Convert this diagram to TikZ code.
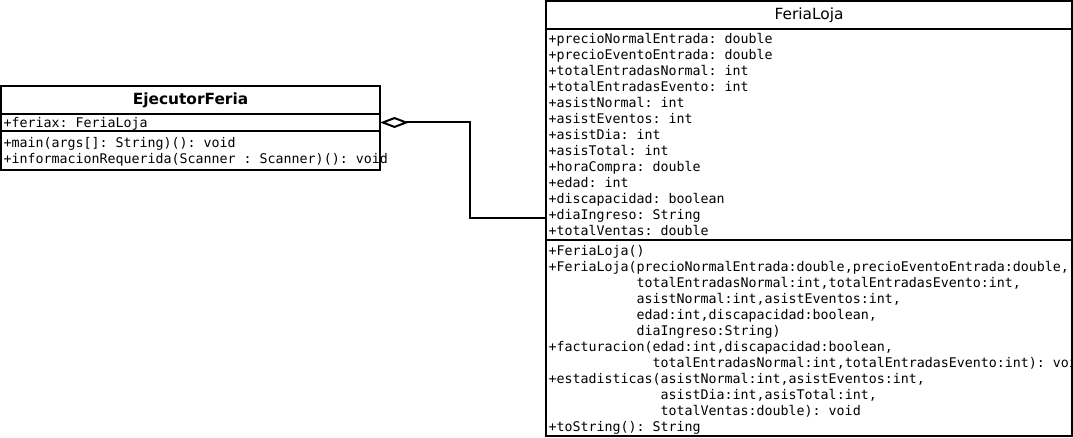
\documentclass[tikz,border=0pt]{standalone}
\usepackage{fontspec}
\usetikzlibrary{positioning,arrows.meta}
\newfontfamily\monofam{DejaVu Sans Mono}
\newfontfamily\sansfam{DejaVu Sans}
\newcommand{\miembros}{\monofam\fontsize{13.3}{16}\selectfont\hyphenchar\font=-1
    \frenchspacing}
\newcommand{\titulo}{\sansfam\fontsize{15.4}{18}\selectfont}
% espacios fijos de monoespaciado y puntales desplazados
\newcommand{\espacios}{\spaceskip=8pt\relax\xspaceskip=8pt\relax}
\newcommand{\arriba}{\rule{0pt}{13.2pt}}
\newcommand{\abajo}{\rule[-2.8pt]{0pt}{2.8pt}}

\begin{document}
\begin{tikzpicture}[x=1pt,y=-1pt,
    caja/.style={draw,rectangle,line width=1.6pt,inner sep=0pt,outer sep=0pt,anchor=north west},
    nombre/.style={caja,font=\titulo,align=center,text height=11pt,text depth=2pt},
    miembro/.style={caja,font=\miembros,align=flush left,inner xsep=2.5pt,
        execute at begin node=\espacios\arriba,execute at end node=\abajo},
    agreg/.style={line width=2pt,-{Diamond[open,length=29pt,width=11pt]}}]
    \useasboundingbox (0,0) rectangle (1073,438);
    \clip (0,0) rectangle (1073,438);
    % clase EjecutorFeria
    \node (eftit) [nombre,minimum width=379pt,minimum height=28pt] at (1,86) {\bfseries EjecutorFeria};
    \node (efattr) [miembro,text width=374pt,minimum height=17pt,
        below right=0pt of eftit.south west] {+feriax: FeriaLoja};
    \node (efmet) [miembro,text width=374pt,minimum height=39pt,
        below right=0pt of efattr.south west] {+main(args[]: String)(): void\\
        +informacionRequerida(Scanner~:~Scanner)():~void};
    % clase FeriaLoja
    \node (fltit) [nombre,minimum width=526pt,minimum height=28pt] at (546,1) {FeriaLoja};
    \node (flattr) [miembro,text width=521pt,minimum height=211pt,
        below right=0pt of fltit.south west] {+precioNormalEntrada: double\\
        +precioEventoEntrada: double\\
        +totalEntradasNormal: int\\
        +totalEntradasEvento: int\\
        +asistNormal: int\\
        +asistEventos: int\\
        +asistDia: int\\
        +asisTotal: int\\
        +horaCompra: double\\
        +edad: int\\
        +discapacidad: boolean\\
        +diaIngreso: String\\
        +totalVentas: double};
    \node (flmet) [miembro,text width=521pt,minimum height=196pt,
        below right=0pt of flattr.south west] {+FeriaLoja()\\
        +FeriaLoja(precioNormalEntrada:double,precioEventoEntrada:double,\\
        \phantom{+FeriaLoja(}totalEntradasNormal:int,totalEntradasEvento:int,\\
        \phantom{+FeriaLoja(}asistNormal:int,asistEventos:int,\\
        \phantom{+FeriaLoja(}edad:int,discapacidad:boolean,\\
        \phantom{+FeriaLoja(}diaIngreso:String)\\
        +facturacion(edad:int,discapacidad:boolean,\\
        \phantom{+facturacion(}totalEntradasNormal:int,totalEntradasEvento:int):~void\\
        +estadisticas(asistNormal:int,asistEventos:int,\\
        \phantom{+estadisticas(}asistDia:int,asisTotal:int,\\
        \phantom{+estadisticas(}totalVentas:double):~void\\
        +toString(): String};
    % agregacion
    \coordinate (codo) at (470,218);
    \draw [agreg] (flattr.west |- codo) -- (codo) |- (efattr.east);
\end{tikzpicture}
\end{document}
